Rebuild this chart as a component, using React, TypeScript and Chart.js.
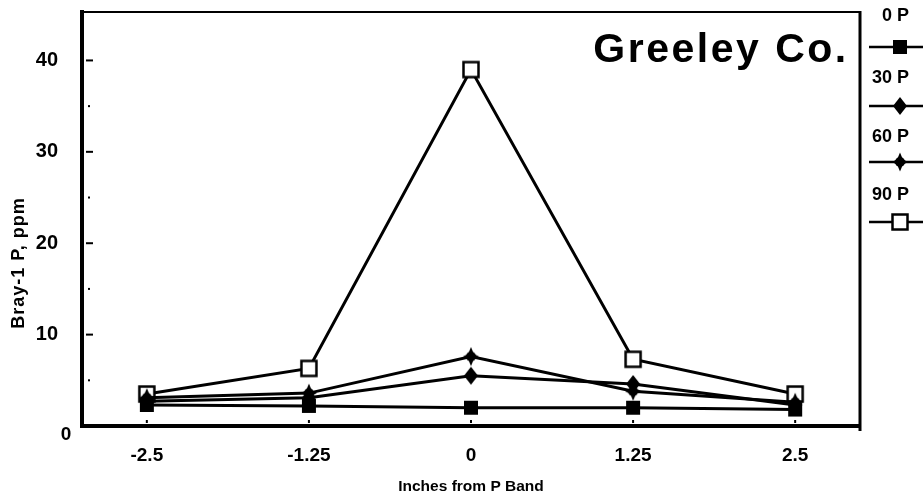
import React, { useEffect, useRef } from 'react';
import { Chart, registerables } from 'chart.js';
Chart.register(...registerables);

const xPositions = [-2.5, -1.25, 0, 1.25, 2.5];
const xTickLabels = ['-2.5', '-1.25', '0', '1.25', '2.5'];
const seriesNames = ['0 P', '30 P', '60 P', '90 P'];
const p0 = [2.3, 2.2, 2.0, 2.0, 1.8];
const p30 = [2.7, 3.1, 5.5, 4.6, 2.3];
const p60 = [3.1, 3.6, 7.6, 3.8, 2.6];
const p90 = [3.5, 6.3, 39, 7.3, 3.5];
const yTicks = [0, 10, 20, 30, 40];
const yMinorTicks = [5, 15, 25, 35];
const chartTitle = 'Greeley Co.';
const xTitle = 'Inches from P Band';
const yTitle = 'Bray-1 P, ppm';

const FONT = '"Liberation Sans", Arial, sans-serif';

function makeMarker(kind: string): HTMLCanvasElement {
  const c = document.createElement('canvas');
  c.width = 20;
  c.height = 20;
  const ctx = c.getContext('2d')!;
  ctx.fillStyle = '#000';
  ctx.strokeStyle = '#000';
  if (kind === 'square') {
    ctx.fillRect(3, 3, 14, 14);
  } else if (kind === 'diamond') {
    ctx.beginPath();
    ctx.moveTo(10, 1);
    ctx.lineTo(17, 10);
    ctx.lineTo(10, 19);
    ctx.lineTo(3, 10);
    ctx.closePath();
    ctx.fill();
  } else if (kind === 'star') {
    ctx.beginPath();
    const cx = 10, cy = 10;
    const outer = [9.5, 8, 9.5, 8];
    for (let i = 0; i < 8; i++) {
      const ang = -Math.PI / 2 + (i * Math.PI) / 4;
      const r = i % 2 === 0 ? outer[i / 2] : 4;
      const px = cx + r * Math.cos(ang);
      const py = cy + r * Math.sin(ang);
      if (i === 0) ctx.moveTo(px, py);
      else ctx.lineTo(px, py);
    }
    ctx.closePath();
    ctx.fill();
    ctx.beginPath();
    ctx.arc(cx, cy, 5, 0, Math.PI * 2);
    ctx.fill();
  } else {
    ctx.fillStyle = '#fff';
    ctx.fillRect(2.5, 2.5, 15, 15);
    ctx.lineWidth = 2.5;
    ctx.strokeRect(2.5, 2.5, 15, 15);
  }
  return c;
}

export default function App() {
  const ref = useRef<HTMLCanvasElement | null>(null);
  useEffect(() => {
    const markers = [makeMarker('square'), makeMarker('diamond'), makeMarker('star'), makeMarker('open')];
    const series = [p0, p30, p60, p90];
    const datasets = series.map((arr, k) => ({
      label: seriesNames[k],
      data: xPositions.map((x, i) => ({ x, y: arr[i] })),
      borderColor: '#000',
      backgroundColor: '#000',
      borderWidth: 3,
      pointStyle: markers[k] as any,
      pointRadius: 8,
      tension: 0,
    }));

    const decor = {
      id: 'decor',
      afterDraw(chart: any) {
        const ctx = chart.ctx as CanvasRenderingContext2D;
        const { left, right, top, bottom } = chart.chartArea;
        const ys = chart.scales.y;
        const xs = chart.scales.x;
        ctx.save();
        ctx.strokeStyle = '#000';
        ctx.fillStyle = '#000';
        // top and right frame
        ctx.lineWidth = 2;
        ctx.beginPath();
        ctx.moveTo(left - 2, top);
        ctx.lineTo(right, top);
        ctx.stroke();
        ctx.lineWidth = 3;
        ctx.beginPath();
        ctx.moveTo(right, top - 1);
        ctx.lineTo(right, bottom + 5);
        ctx.stroke();
        // inner y ticks
        ctx.lineWidth = 2;
        yTicks.forEach((v) => {
          if (v === 0) return;
          const y = ys.getPixelForValue(v);
          ctx.beginPath();
          ctx.moveTo(left + 4, y);
          ctx.lineTo(left + 11, y);
          ctx.stroke();
        });
        yMinorTicks.forEach((v) => {
          const y = ys.getPixelForValue(v);
          ctx.fillRect(left + 6, y - 1, 2, 2);
        });
        xPositions.forEach((v) => {
          const x = xs.getPixelForValue(v);
          ctx.fillRect(x - 1, bottom - 6, 2, 3);
        });
        // zero label
        ctx.font = `bold 19px ${FONT}`;
        ctx.textAlign = 'center';
        ctx.textBaseline = 'middle';
        ctx.fillText('0', 66, ys.getPixelForValue(0) + 9);
        // chart title
        ctx.font = `bold 41px ${FONT}`;
        (ctx as any).letterSpacing = '2.5px';
        ctx.textAlign = 'center';
        ctx.textBaseline = 'middle';
        ctx.fillText(chartTitle, 721, 51);
        (ctx as any).letterSpacing = '0px';
        // x title
        ctx.font = `bold 15.5px ${FONT}`;
        ctx.fillText(xTitle, (left + right) / 2, 487);
        // y title
        ctx.save();
        ctx.translate(19, 263);
        ctx.rotate(-Math.PI / 2);
        ctx.font = `bold 18px ${FONT}`;
        (ctx as any).letterSpacing = '1px';
        ctx.fillText(yTitle, 0, 0);
        ctx.restore();
        // legend
        const textY = [16, 78, 137, 195];
        const lineY = [47, 106, 162, 222];
        ctx.font = `bold 18px ${FONT}`;
        ctx.textAlign = 'right';
        seriesNames.forEach((name, k) => {
          ctx.fillText(name, 909, textY[k]);
          ctx.lineWidth = 2.5;
          ctx.beginPath();
          ctx.moveTo(869, lineY[k]);
          ctx.lineTo(923, lineY[k]);
          ctx.stroke();
          ctx.drawImage(markers[k], 900 - 10, lineY[k] - 10);
        });
        ctx.restore();
      },
    };

    const chart = new Chart(ref.current!, {
      type: 'line',
      data: { datasets: datasets as any },
      options: {
        animation: false,
        responsive: false,
        maintainAspectRatio: false,
        layout: { padding: { top: 12, right: 63, left: 0, bottom: 0 } },
        plugins: { legend: { display: false }, tooltip: { enabled: false } },
        scales: {
          x: {
            type: 'linear',
            min: -3,
            max: 3,
            afterBuildTicks: (s: any) => {
              s.ticks = xPositions.map((v) => ({ value: v }));
            },
            afterFit: (s: any) => {
              s.height = 75;
              s.paddingLeft = 0;
              s.paddingRight = 0;
            },
            grid: { display: false, drawTicks: false },
            border: { display: true, color: '#000', width: 4 },
            ticks: {
              color: '#000',
              font: { family: FONT, size: 19, weight: 'bold' },
              padding: 18,
              maxRotation: 0,
              autoSkip: false,
              callback: (v: any) => {
                const i = xPositions.indexOf(Number(v));
                return i >= 0 ? xTickLabels[i] : '';
              },
            },
          },
          y: {
            type: 'linear',
            min: 0,
            max: 45.3,
            afterBuildTicks: (s: any) => {
              s.ticks = yTicks.map((v) => ({ value: v }));
            },
            afterFit: (s: any) => {
              s.width = 82;
              s.paddingTop = 0;
              s.paddingBottom = 0;
            },
            grid: { display: false, drawTicks: false },
            border: { display: true, color: '#000', width: 4 },
            ticks: {
              color: '#000',
              font: { family: FONT, size: 20, weight: 'bold' },
              padding: 24,
              autoSkip: false,
              callback: (v: any) => (Number(v) === 0 ? '' : String(v)),
            },
          },
        },
      },
      plugins: [decor],
    });
    return () => chart.destroy();
  }, []);

  return (
    <div style={{ position: 'fixed', left: 0, top: 0, width: 923, height: 501, background: '#fff' }}>
      <canvas ref={ref} width={923} height={501} style={{ display: 'block', width: 923, height: 501 }} />
    </div>
  );
}
